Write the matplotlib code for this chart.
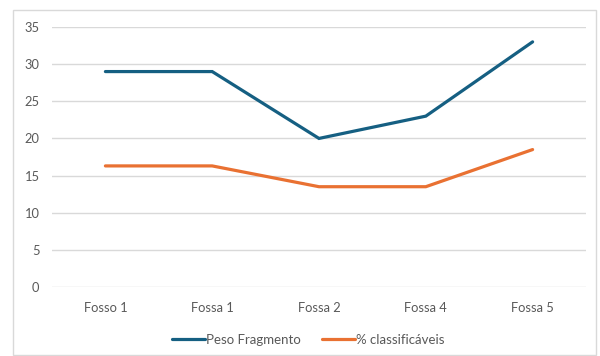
import matplotlib as mpl
mpl.use('Agg')
import matplotlib.pyplot as plt
from matplotlib.patches import Rectangle

categorias = ["Fosso 1", "Fossa 1", "Fossa 2", "Fossa 4", "Fossa 5"]
peso_fragmento = [29, 29, 20, 23, 33]
pct_classificaveis = [16.3, 16.3, 13.5, 13.5, 18.5]
y_ticks = [0, 5, 10, 15, 20, 25, 30, 35]

azul = "#155f82"
laranja = "#e97132"
cinza = "#595959"

plt.rcParams['font.family'] = ['Lato', 'DejaVu Sans']

fig = plt.figure(figsize=(6.0, 3.56), dpi=100)
ax = fig.add_axes([52 / 600, 69 / 356, 534 / 600, 260 / 356])

# moldura do gráfico
fig.patches.append(Rectangle((13 / 600, 1 / 356), 583 / 600, 345 / 356,
                             transform=fig.transFigure, fill=False,
                             edgecolor="#d9d9d9", linewidth=1.0))

x = list(range(len(categorias)))
ax.plot(x, peso_fragmento, color=azul, linewidth=2.3, label="Peso Fragmento",
        solid_joinstyle='miter', solid_capstyle='round')
ax.plot(x, pct_classificaveis, color=laranja, linewidth=2.3, label="% classificáveis",
        solid_joinstyle='miter', solid_capstyle='round')

ax.set_xlim(-0.5, len(categorias) - 0.5)
ax.set_ylim(0, 35)
ax.set_yticks(y_ticks)
ax.set_xticks(x)
ax.set_xticklabels(categorias)
ax.grid(axis='y', color="#d9d9d9", linewidth=1.0)
ax.set_axisbelow(True)
for s in ax.spines.values():
    s.set_visible(False)
ax.tick_params(axis='both', length=0, labelsize=9.3, labelcolor=cinza)
ax.tick_params(axis='y', pad=9)
ax.tick_params(axis='x', pad=11)

fig.legend(loc='center', bbox_to_anchor=(308 / 600, 1 - 340 / 356), ncol=2,
           frameon=False, fontsize=9.5, labelcolor=cinza, handlelength=2.5,
           handletextpad=0.1, columnspacing=1.6)

fig.savefig("out.png", dpi=100)
